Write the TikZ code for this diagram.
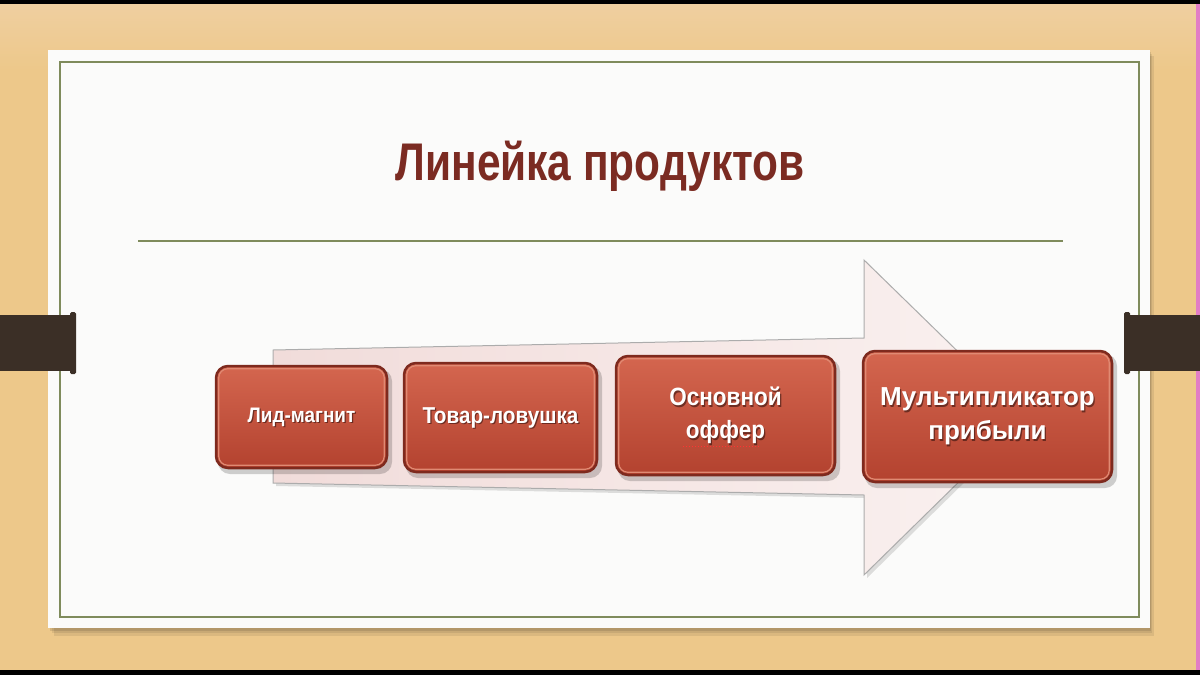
\documentclass[tikz,border=0pt]{standalone}
\usepackage{fontspec}
\setmainfont{Liberation Sans}
\newfontfamily\titlefont[FakeStretch=0.8]{Liberation Sans}
\newfontfamily\boxfont[FakeStretch=0.9]{Liberation Sans}
\newfontfamily\wideboxfont[FakeStretch=1.0]{Liberation Sans}
\usetikzlibrary{shadows}
\definecolor{wood}{HTML}{EDC88A}
\definecolor{woodlight}{HTML}{EFCFA0}
\definecolor{tabc}{HTML}{3B2F26}
\definecolor{frameg}{HTML}{7F8B5C}
\definecolor{titlec}{HTML}{7B2B22}
\definecolor{boxtop}{HTML}{D4664F}
\definecolor{boxbot}{HTML}{B3422F}
\definecolor{boxedge}{HTML}{7E2A1E}
\definecolor{boxhi}{HTML}{E08A73}
\definecolor{arrowl}{HTML}{F1DCDA}
\definecolor{arrowr}{HTML}{FAF1F0}
\definecolor{cardc}{HTML}{FBFBFA}
\definecolor{pinkedge}{HTML}{E27DC6}
\tikzset{
  prodbox/.style={rounded corners=12pt, draw=boxedge, line width=2.5pt,
    top color=boxtop, bottom color=boxbot, inner sep=0pt},
  boxtext/.style={text=white, align=center, inner sep=0pt},
  boxshadow/.style={text=black!70!boxedge, opacity=0.55, align=center, inner sep=0pt},
  fa/.style={font=\boxfont\bfseries\fontsize{21}{33}\selectfont},
  fb/.style={font=\boxfont\bfseries\fontsize{23}{33}\selectfont},
  fc/.style={font=\boxfont\bfseries\fontsize{25}{33}\selectfont},
  fd/.style={font=\wideboxfont\bfseries\fontsize{26}{34}\selectfont},
  bevel/.style={draw=boxhi, line width=1.2pt, rounded corners=9pt},
  tab/.style={fill=tabc}
}
\begin{document}
\begin{tikzpicture}[x=1pt,y=-1pt]
\useasboundingbox (0,0) rectangle (1200,675);
% wooden background
\fill[wood] (0,0) rectangle (1200,675);
\shade[top color=woodlight, bottom color=wood] (0,4) rectangle (1200,70);
\fill[pinkedge] (1196,4) rectangle (1200,670);
\fill[black] (0,0) rectangle (1200,4);
\fill[black] (0,670) rectangle (1200,675);
% card with shadow
\fill[black, opacity=0.08] (54,56) rectangle (1154,636);
\fill[black, opacity=0.08] (52,54) rectangle (1152,633);
\fill[black, opacity=0.10] (50,52) rectangle (1151,631);
\fill[cardc] (48,50) rectangle (1150,628);
\draw[frameg, line width=1.3pt] (60,62) rectangle (1139,617);
% tabs
\fill[tab] (0,315) rectangle (73,371);
\fill[tab, rounded corners=1.5pt] (70,312) rectangle (76,374);
\fill[tab] (1127,315) rectangle (1200,371);
\fill[tab, rounded corners=1.5pt] (1124,312) rectangle (1130,374);
% title and rule
\node[text=titlec, font=\titlefont\bfseries\fontsize{53}{60}\selectfont] (title) at (600,166) {Линейка продуктов};
\draw[frameg, line width=1.5pt] (138,241) -- (1063,241);
% big arrow
\fill[black, opacity=0.12] (276,353) -- (867,341) -- (867,263) -- (1028,420) -- (867,578) -- (867,498) -- (276,486) -- cycle;
\path[draw=gray!65, line width=1pt, left color=arrowl, right color=arrowr]
  (273,350) -- (864,338) -- (864,260) -- (1025,417) -- (864,575) -- (864,495) -- (273,483) -- cycle;
% product boxes
\foreach \xa/\ya/\xb/\yb in {215/365/388/469, 403/362/598/473, 615/355/836/476, 862/350/1113/483}{
  \fill[black, opacity=0.18, rounded corners=12pt] (\xa+3,\ya+4) rectangle (\xb+4,\yb+5);
}
\node[prodbox, minimum width=171pt, minimum height=102pt] (b1) at (301.5,417) {};
\node[prodbox, minimum width=193pt, minimum height=109pt] (b2) at (500.5,417.5) {};
\node[prodbox, minimum width=219pt, minimum height=119pt] (b3) at (725.5,415.5) {};
\node[prodbox, minimum width=249pt, minimum height=131pt] (b4) at (987.5,416.5) {};
\foreach \b in {b1,b2,b3,b4}{
  \draw[bevel] ([shift={(4,4)}]\b.north west) rectangle ([shift={(-4,-4)}]\b.south east);
}
% text shadows
\node[boxshadow, fa] at ([shift={(1.2,1.5)}]b1.center) {Лид-магнит};
\node[boxshadow, fb] at ([shift={(1.2,1.5)}]b2.center) {Товар-ловушка};
\node[boxshadow, fc] at ([shift={(1.2,1.5)}]b3.center) {Основной\\оффер};
\node[boxshadow, fd] at ([shift={(1.2,1.5)}]b4.center) {Мультипликатор\\прибыли};
% texts
\node[boxtext, fa] (t1) at (b1.center) {Лид-магнит};
\node[boxtext, fb] (t2) at (b2.center) {Товар-ловушка};
\node[boxtext, fc] (t3) at (b3.center) {Основной\\оффер};
\node[boxtext, fd] (t4) at (b4.center) {Мультипликатор\\прибыли};
\draw[red!80!white, line width=1pt, dotted] (683,446) -- (759,446);
\end{tikzpicture}
\end{document}
